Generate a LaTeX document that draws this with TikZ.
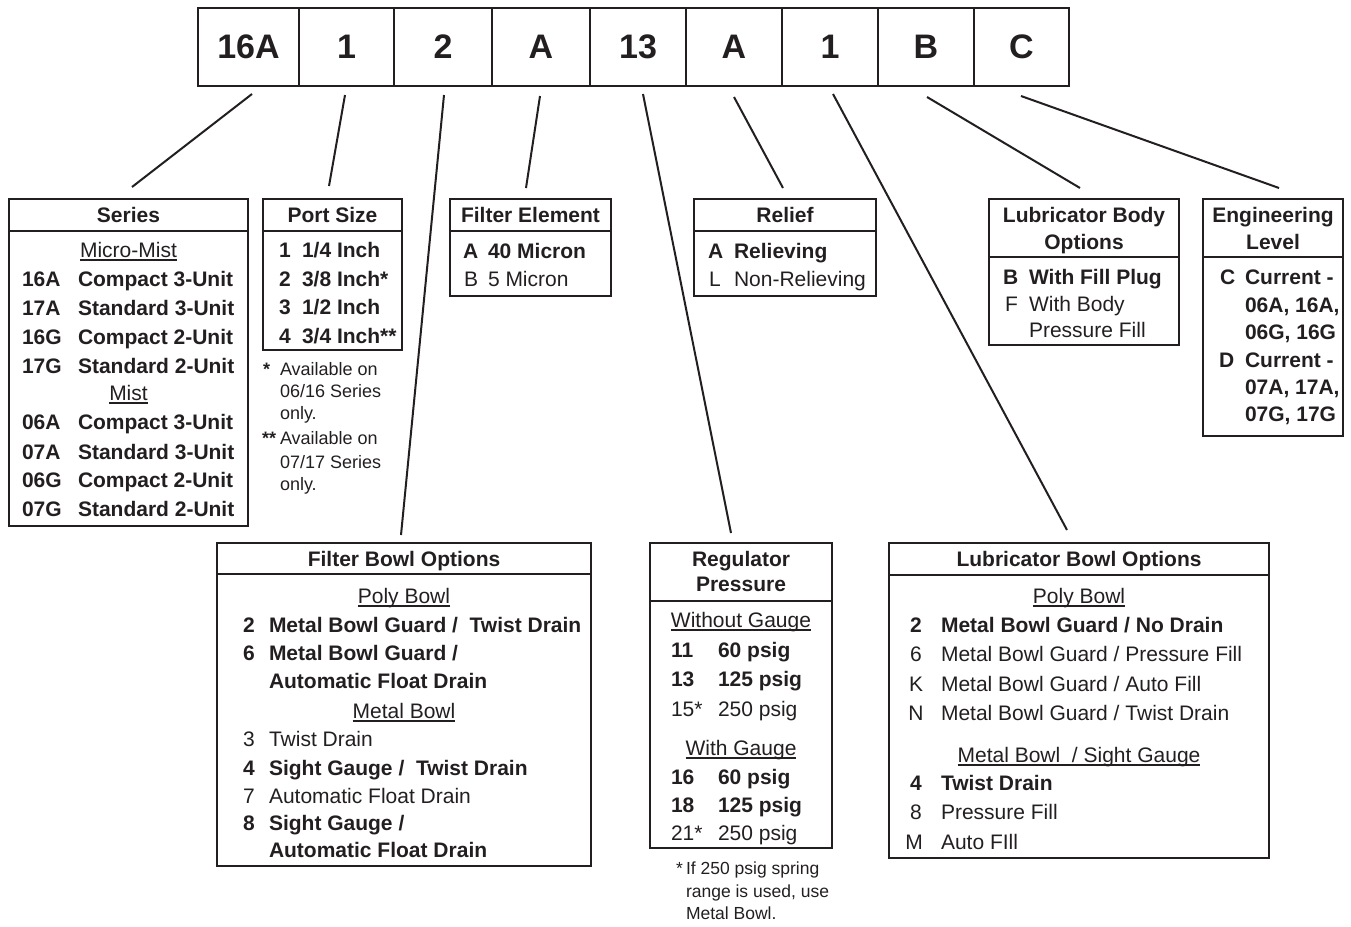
\documentclass[tikz,border=0pt]{standalone}
\usepackage{fontspec}
\setmainfont{Liberation Sans}
\definecolor{ink}{HTML}{231F20}
\newcommand\myul[1]{\setbox0\hbox{#1}\rlap{\color{ink}\rule[-3pt]{\wd0}{1.2pt}}\box0}
\tikzset{
  frame/.style={draw=ink, line width=2.4pt, inner sep=0pt, outer sep=0pt, anchor=north west},
  rule/.style={draw=ink, line width=2.4pt},
  conn/.style={draw=ink, line width=2pt},
  cell/.style={draw=ink, line width=2.4pt, inner sep=0pt, minimum height=78, text=ink, font=\fontsize{34}{40}\selectfont\bfseries},
  tx/.style={anchor=base west, inner sep=0pt, outer sep=0pt, text=ink, font=\fontsize{21}{25}\selectfont},
  txb/.style={tx, font=\fontsize{21}{25}\selectfont\bfseries},
  txc/.style={tx, anchor=base},
  txbc/.style={txb, anchor=base},
  fn/.style={tx, font=\fontsize{18}{22}\selectfont},
  fnb/.style={tx, font=\fontsize{18}{22}\selectfont\bfseries},
  fns/.style={tx, font=\fontsize{17.5}{21}\selectfont},
}
\begin{document}
\begin{tikzpicture}[x=1pt,y=-1pt]
\useasboundingbox (0,0) rectangle (1351,926);

% ---------- top code row ----------
\node[cell, minimum width=101] (c1) at (248.5,47) {16A};
\node[cell, minimum width=95]  (c2) at (346.5,47) {1};
\node[cell, minimum width=98]  (c3) at (443,47) {2};
\node[cell, minimum width=98]  (c4) at (541,47) {A};
\node[cell, minimum width=96]  (c5) at (638,47) {13};
\node[cell, minimum width=96]  (c6) at (734,47) {A};
\node[cell, minimum width=96]  (c7) at (830,47) {1};
\node[cell, minimum width=96]  (c8) at (926,47) {B};
\node[cell, minimum width=95]  (c9) at (1021.5,47) {C};

% ---------- connectors ----------
\coordinate (s1) at (252,94);   \coordinate (e1) at (132,187);
\coordinate (s2) at (345,95);   \coordinate (e2) at (329,186);
\coordinate (s3) at (444,95);   \coordinate (e3) at (401,535);
\coordinate (s4) at (540,96);   \coordinate (e4) at (526,188);
\coordinate (s5) at (643,94);   \coordinate (e5) at (731,533);
\coordinate (s6) at (734,97);   \coordinate (e6) at (783,188);
\coordinate (s7) at (833,94);   \coordinate (e7) at (1067,530);
\coordinate (s8) at (927,97);   \coordinate (e8) at (1080,188);
\coordinate (s9) at (1021,96);  \coordinate (e9) at (1279,188);
\foreach \i in {1,...,9} { \draw[conn] (s\i) -- (e\i); }

% ---------- Series ----------
\node[frame, minimum width=239, minimum height=327] (series) at (9,199) {};
\draw[rule] (9,231) -- (248,231);
\node[txbc] (serT) at (128.5,222.5) {Series};
\node[txc] (serM) at (128.5,257.5) {\myul{Micro-Mist}};
\node[txb] (sa1) at (22,286.5) {16A}; \node[txb] (sb1) at (78,286.5) {Compact 3-Unit};
\node[txb] (sa2) at (22,315.5) {17A}; \node[txb] (sb2) at (78,315.5) {Standard 3-Unit};
\node[txb] (sa3) at (22,344.5) {16G}; \node[txb] (sb3) at (78,344.5) {Compact 2-Unit};
\node[txb] (sa4) at (22,373.5) {17G}; \node[txb] (sb4) at (78,373.5) {Standard 2-Unit};
\node[txc] (serN) at (128.5,400.5) {\myul{Mist}};
\node[txb] (sa5) at (22,429.5) {06A}; \node[txb] (sb5) at (78,429.5) {Compact 3-Unit};
\node[txb] (sa6) at (22,459.5) {07A}; \node[txb] (sb6) at (78,459.5) {Standard 3-Unit};
\node[txb] (sa7) at (22,487.5) {06G}; \node[txb] (sb7) at (78,487.5) {Compact 2-Unit};
\node[txb] (sa8) at (22,516.5) {07G}; \node[txb] (sb8) at (78,516.5) {Standard 2-Unit};

% ---------- Port Size ----------
\node[frame, minimum width=139, minimum height=151] (port) at (263,199) {};
\draw[rule] (263,231) -- (402,231);
\node[txbc] (poT) at (332.5,222.5) {Port Size};
\node[txb] (pa1) at (279,257.5) {1}; \node[txb] (pb1) at (302,257.5) {1/4 Inch};
\node[txb] (pa2) at (279,286.5) {2}; \node[txb] (pb2) at (302,286.5) {3/8 Inch*};
\node[txb] (pa3) at (279,314.5) {3}; \node[txb] (pb3) at (302,314.5) {1/2 Inch};
\node[txb] (pa4) at (279,343.5) {4}; \node[txb] (pb4) at (302,343.5) {3/4 Inch**};
\node[fnb] (pf1) at (263,375.5) {*};  \node[fn] (pf2) at (280,375.5) {Available on};
\node[fn] (pf3) at (280,397.5) {06/16 Series};
\node[fn] (pf4) at (280,419.5) {only.};
\node[fnb] (pf5) at (262,444.5) {**}; \node[fn] (pf6) at (280,444.5) {Available on};
\node[fn] (pf7) at (280,468.5) {07/17 Series};
\node[fn] (pf8) at (280,490.5) {only.};

% ---------- Filter Element ----------
\node[frame, minimum width=161, minimum height=97] (felem) at (450,199) {};
\draw[rule] (450,231) -- (611,231);
\node[txbc] (feT) at (530.5,222.5) {Filter Element};
\node[txb] (fa1) at (463,258.5) {A}; \node[txb] (fb1) at (488,258.5) {40 Micron};
\node[tx] (fa2) at (464,286.5) {B};  \node[tx] (fb2) at (488,286.5) {5 Micron};

% ---------- Relief ----------
\node[frame, minimum width=182, minimum height=97] (relief) at (694,199) {};
\draw[rule] (694,231) -- (876,231);
\node[txbc] (reT) at (785,222.5) {Relief};
\node[txb] (ra1) at (708,258.5) {A}; \node[txb] (rb1) at (734,258.5) {Relieving};
\node[tx] (ra2) at (709,286.5) {L};  \node[tx] (rb2) at (734,286.5) {Non-Relieving};

% ---------- Lubricator Body Options ----------
\node[frame, minimum width=190, minimum height=146] (lbody) at (989,199) {};
\draw[rule] (989,257) -- (1179,257);
\node[txbc] (lbT1) at (1084,222.5) {Lubricator Body};
\node[txbc] (lbT2) at (1084,249.5) {Options};
\node[txb] (la1) at (1003,284.5) {B}; \node[txb] (lb1) at (1029,284.5) {With Fill Plug};
\node[tx] (la2) at (1005,311.5) {F};  \node[tx] (lb2) at (1029,311.5) {With Body};
\node[tx] (lb3) at (1029,337.5) {Pressure Fill};

% ---------- Engineering Level ----------
\node[frame, minimum width=140, minimum height=237] (eng) at (1203,199) {};
\draw[rule] (1203,257) -- (1343,257);
\node[txbc] (enT1) at (1273,222.5) {Engineering};
\node[txbc] (enT2) at (1273,249.5) {Level};
\node[txb] (ea1) at (1220,284.5) {C}; \node[txb] (eb1) at (1245,284.5) {Current -};
\node[txb] (eb2) at (1245,312.5) {06A, 16A,};
\node[txb] (eb3) at (1245,339.5) {06G, 16G};
\node[txb] (ea2) at (1219,367.5) {D}; \node[txb] (eb4) at (1245,367.5) {Current -};
\node[txb] (eb5) at (1245,394.5) {07A, 17A,};
\node[txb] (eb6) at (1245,421.5) {07G, 17G};

% ---------- Filter Bowl Options ----------
\node[frame, minimum width=374, minimum height=323] (fbowl) at (217,543) {};
\draw[rule] (217,574) -- (591,574);
\node[txbc] (fbT) at (404,566.5) {Filter Bowl Options};
\node[txc] (fbP) at (404,603.5) {\myul{Poly Bowl}};
\node[txb] (fx1) at (243,632.5) {2}; \node[txb] (fy1) at (269,632.5) {Metal Bowl Guard /\ \ Twist Drain};
\node[txb] (fx2) at (243,660.5) {6}; \node[txb] (fy2) at (269,660.5) {Metal Bowl Guard /};
\node[txb] (fy3) at (269,688.5) {Automatic Float Drain};
\node[txc] (fbM) at (404,718.5) {\myul{Metal Bowl}};
\node[tx] (fx3) at (243,746.5) {3};  \node[tx] (fy4) at (269,746.5) {Twist Drain};
\node[txb] (fx4) at (243,775.5) {4}; \node[txb] (fy5) at (269,775.5) {Sight Gauge /\ \ Twist Drain};
\node[tx] (fx5) at (243,803.5) {7};  \node[tx] (fy6) at (269,803.5) {Automatic Float Drain};
\node[txb] (fx6) at (243,830.5) {8}; \node[txb] (fy7) at (269,830.5) {Sight Gauge /};
\node[txb] (fy8) at (269,857.5) {Automatic Float Drain};

% ---------- Regulator Pressure ----------
\node[frame, minimum width=182, minimum height=305] (reg) at (650,543) {};
\draw[rule] (650,601) -- (832,601);
\node[txbc] (rgT1) at (741,566.5) {Regulator};
\node[txbc] (rgT2) at (741,591.5) {Pressure};
\node[txc] (rgW) at (741,627.5) {\myul{Without Gauge}};
\node[txb] (gx1) at (671,657.5) {11}; \node[txb] (gy1) at (718,657.5) {60 psig};
\node[txb] (gx2) at (671,686.5) {13}; \node[txb] (gy2) at (718,686.5) {125 psig};
\node[tx] (gx3) at (671,716.5) {15*};  \node[tx] (gy3) at (718,716.5) {250 psig};
\node[txc] (rgG) at (741,755.5) {\myul{With Gauge}};
\node[txb] (gx4) at (671,784.5) {16}; \node[txb] (gy4) at (718,784.5) {60 psig};
\node[txb] (gx5) at (671,812.5) {18}; \node[txb] (gy5) at (718,812.5) {125 psig};
\node[tx] (gx6) at (671,840.5) {21*};  \node[tx] (gy6) at (718,840.5) {250 psig};
\node[fns] (rf1) at (676,874) {*};
\node[fns] (rf2) at (686,874) {If 250 psig spring};
\node[fns] (rf3) at (686,897) {range is used, use};
\node[fns] (rf4) at (686,919) {Metal Bowl.};

% ---------- Lubricator Bowl Options ----------
\node[frame, minimum width=380, minimum height=315] (lbowl) at (889,543) {};
\draw[rule] (889,575) -- (1269,575);
\node[txbc] (lwT) at (1079,566.5) {Lubricator Bowl Options};
\node[txc] (lwP) at (1079,603.5) {\myul{Poly Bowl}};
\node[txbc] (lx1) at (916,632.5) {2}; \node[txb] (ly1) at (941,632.5) {Metal Bowl Guard / No Drain};
\node[txc] (lx2) at (916,661.5) {6};  \node[tx] (ly2) at (941,661.5) {Metal Bowl Guard / Pressure Fill};
\node[txc] (lx3) at (916,691.5) {K};  \node[tx] (ly3) at (941,691.5) {Metal Bowl Guard / Auto Fill};
\node[txc] (lx4) at (916,720.5) {N};  \node[tx] (ly4) at (941,720.5) {Metal Bowl Guard / Twist Drain};
\node[txc] (lwM) at (1079,762.5) {\myul{Metal Bowl\ \ / Sight Gauge}};
\node[txbc] (lx5) at (916,790.5) {4}; \node[txb] (ly5) at (941,790.5) {Twist Drain};
\node[txc] (lx6) at (916,819.5) {8};  \node[tx] (ly6) at (941,819.5) {Pressure Fill};
\node[txc] (lx7) at (914,849.5) {M};  \node[tx] (ly7) at (941,849.5) {Auto FIll};
\end{tikzpicture}
\end{document}
